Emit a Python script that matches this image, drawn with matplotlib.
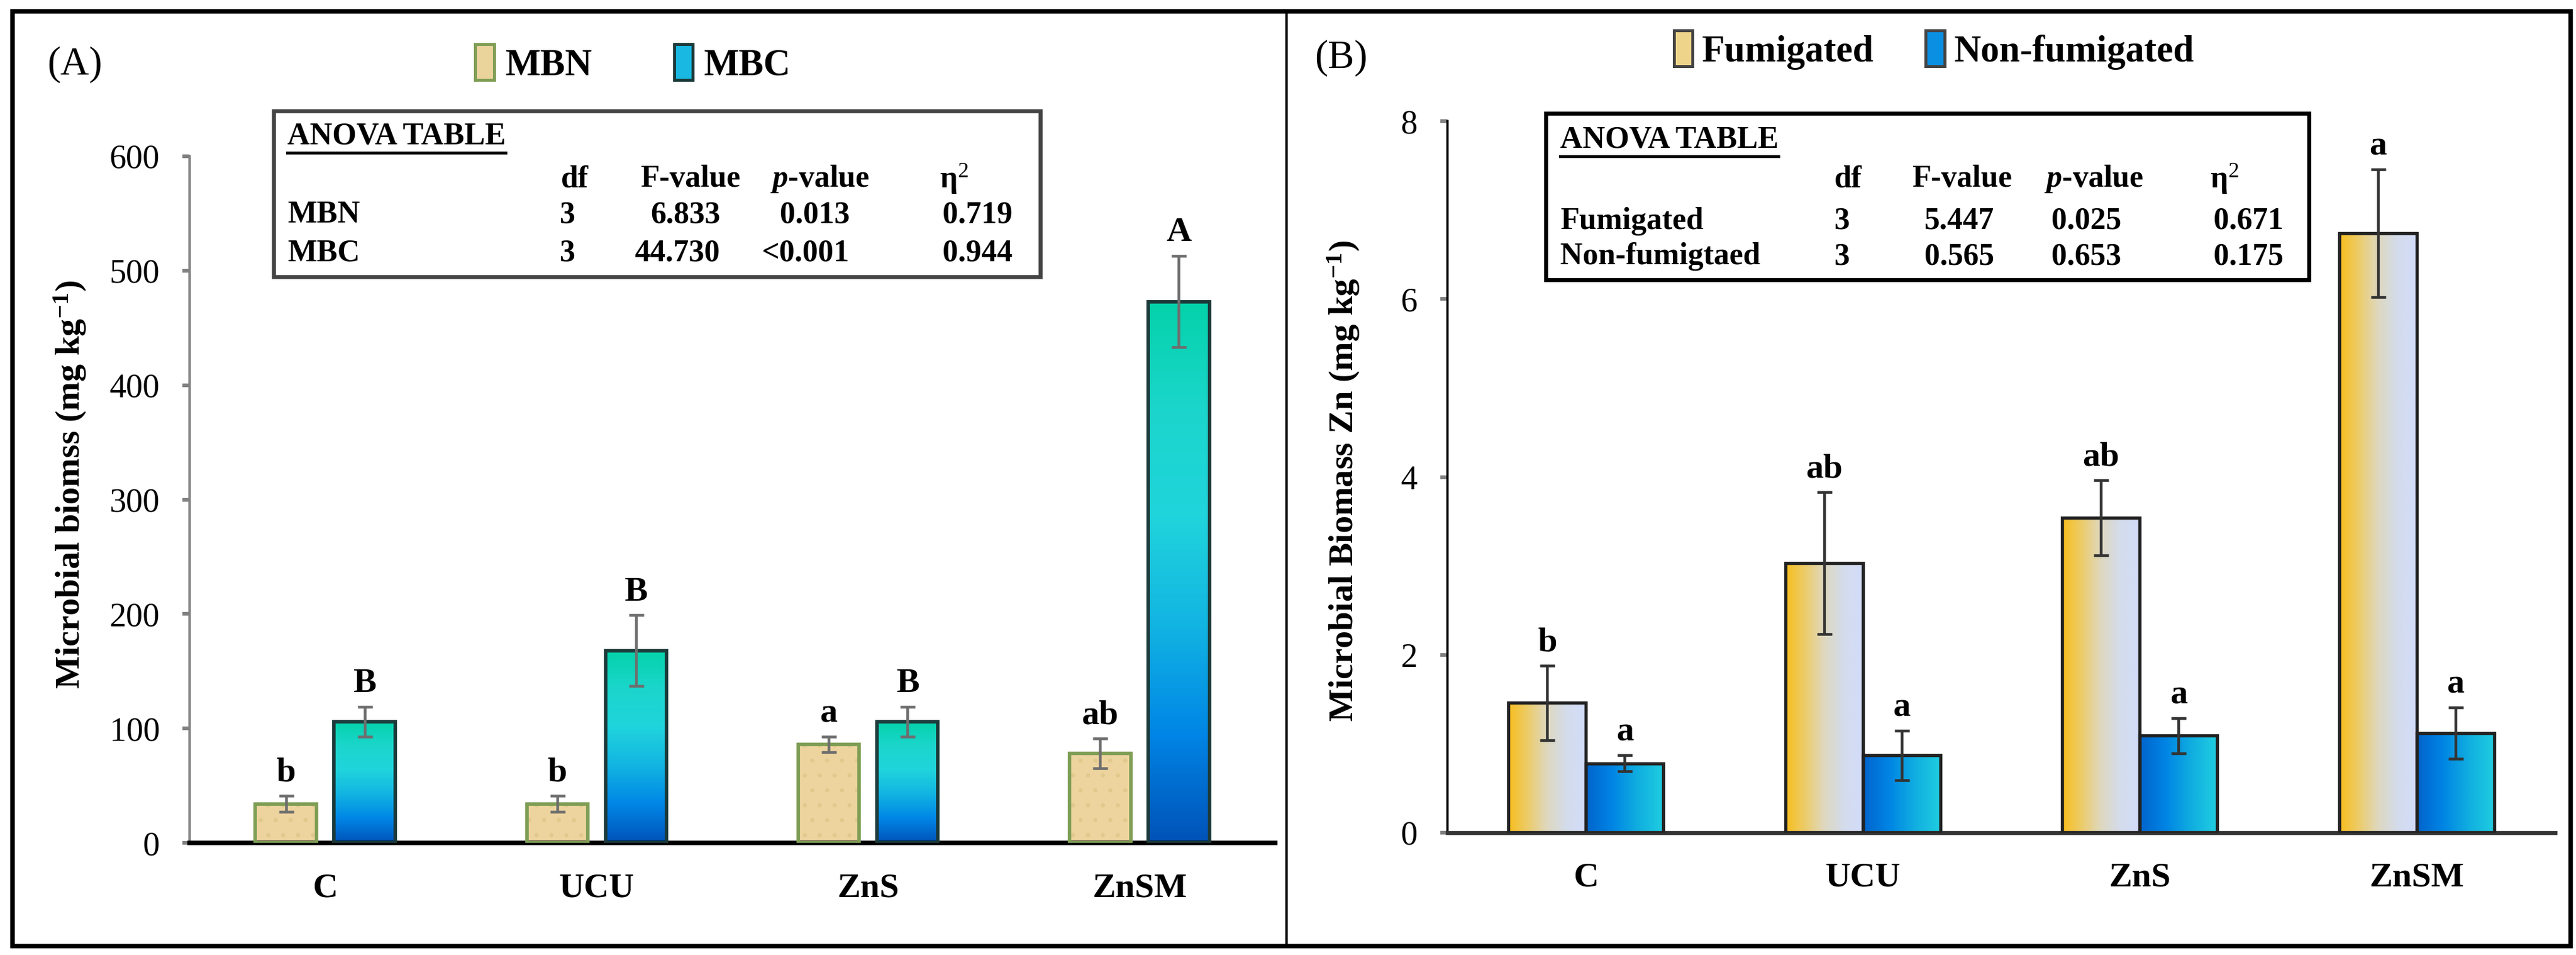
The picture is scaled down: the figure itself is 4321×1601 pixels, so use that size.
import numpy as np
import matplotlib
matplotlib.use("Agg")
import matplotlib.pyplot as plt
from matplotlib.colors import LinearSegmentedColormap
from matplotlib.patches import Rectangle, Patch
from matplotlib.lines import Line2D

# --- Data ---
treatments = ["C", "UCU", "ZnS", "ZnSM"]

# Panel A: microbial biomass N and C (mg kg-1)
mbn = [34, 34, 86, 78]
mbn_err = [7, 7, 7, 13]
mbn_letters = ["b", "b", "a", "ab"]
mbc = [106, 168, 106, 473]
mbc_err = [13, 31, 13, 40]
mbc_letters = ["B", "B", "B", "A"]

# Panel B: microbial biomass Zn (mg kg-1)
fum = [1.46, 3.03, 3.54, 6.74]
fum_err = [0.42, 0.80, 0.42, 0.72]
fum_letters = ["b", "ab", "ab", "a"]
nonfum = [0.78, 0.87, 1.09, 1.12]
nonfum_err = [0.09, 0.28, 0.20, 0.29]
nonfum_letters = ["a", "a", "a", "a"]

# ANOVA tables
anova_cols = ["df", "F-value", "$\\mathbfit{p}$-value", "η$^2$"]
anova_a_rows = ["MBN", "MBC"]
anova_a_vals = [["3", "6.833", "0.013", "0.719"],
                ["3", "44.730", "<0.001", "0.944"]]
anova_b_rows = ["Fumigated", "Non-fumigtaed"]
anova_b_vals = [["3", "5.447", "0.025", "0.671"],
                ["3", "0.565", "0.653", "0.175"]]

# --- Style ---
W, H = 4321, 1601
DPI = 300
plt.rcParams['font.family'] = ['Liberation Serif', 'DejaVu Serif']
plt.rcParams['mathtext.fontset'] = 'custom'
plt.rcParams['mathtext.rm'] = 'Liberation Serif'
plt.rcParams['mathtext.it'] = 'Liberation Serif:italic'
plt.rcParams['mathtext.bf'] = 'Liberation Serif:bold'
plt.rcParams['mathtext.bfit'] = 'Liberation Serif:bold:italic'
plt.rcParams['hatch.linewidth'] = 0.5

fig = plt.figure(figsize=(W / DPI, H / DPI), dpi=DPI)


def fx(px):
    return px / W


def fy(py):
    return 1 - py / H


def axes_px(left, top, right, bottom):
    return fig.add_axes([fx(left), fy(bottom), fx(right) - fx(left), fy(top) - fy(bottom)])


def grad_fill(ax, bar, colors, horizontal):
    x0, y0 = bar.get_xy()
    w, h = bar.get_width(), bar.get_height()
    cmap = LinearSegmentedColormap.from_list("g", colors)
    g = np.linspace(0, 1, 256)
    arr = g[None, :] if horizontal else g[:, None]
    im = ax.imshow(arr, cmap=cmap, extent=[x0, x0 + w, y0, y0 + h],
                   aspect='auto', origin='lower', zorder=2, interpolation='bilinear')
    im.set_clip_path(bar)


mbc_colors = ["#0052B8", "#0086E6", "#12B4E2", "#20D4DC", "#1BD6CC", "#04D2AA"]
fum_colors = ["#F8BE1C", "#ECCC6A", "#DED8C0", "#D4DCEC", "#D2DCFA"]
nonfum_colors = ["#0064CC", "#0084E4", "#10AEE0", "#20CEE0"]

x = np.arange(len(treatments))

# ---------------- Panel A ----------------
axA = axes_px(318, 262, 2139, 1413)
bw = 0.225
off = 0.145
# MBN: textured tan bars
axA.bar(x - off, mbn, bw, color="#EDD49E", edgecolor="#E0C98C", hatch="..",
        linewidth=0, zorder=2)
axA.bar(x - off, mbn, bw, facecolor="none", edgecolor="#7F9E55", linewidth=1.4, zorder=3)
axA.errorbar(x - off, mbn, yerr=mbn_err, fmt="none", ecolor="#6E6E6E",
             elinewidth=1.1, capsize=3, capthick=1.1, zorder=4)
# MBC: vertical gradient bars
barsC = axA.bar(x + off, mbc, bw, facecolor="none", edgecolor="#1C3A3A",
                linewidth=1.4, zorder=3)
for b in barsC:
    grad_fill(axA, b, mbc_colors, horizontal=False)
axA.errorbar(x + off, mbc, yerr=mbc_err, fmt="none", ecolor="#6E6E6E",
             elinewidth=1.1, capsize=3, capthick=1.1, zorder=4)

for i in range(len(treatments)):
    axA.annotate(mbn_letters[i], (x[i] - off, mbn[i] + mbn_err[i]), xytext=(0, 3),
                 textcoords="offset points", ha="center", va="bottom",
                 fontsize=14, fontweight="bold")
    axA.annotate(mbc_letters[i], (x[i] + off, mbc[i] + mbc_err[i]), xytext=(0, 3),
                 textcoords="offset points", ha="center", va="bottom",
                 fontsize=14, fontweight="bold")

axA.set_xlim(-0.5, 3.5)
axA.set_ylim(0, 600)
axA.set_yticks(range(0, 601, 100))
axA.set_xticks(x)
axA.set_xticklabels(treatments, fontsize=14, fontweight="bold")
axA.tick_params(axis="x", length=0, pad=12)
axA.tick_params(axis="y", direction="out", length=3, width=1.5, color="#808080",
                labelsize=13.5, pad=9)
for s in ["top", "right"]:
    axA.spines[s].set_visible(False)
axA.spines["left"].set_color("#808080")
axA.spines["left"].set_linewidth(1.0)
axA.spines["bottom"].set_linewidth(1.8)
axA.spines["bottom"].set_color("black")
fig.text(fx(118), fy(812), "Microbial biomss (mg kg$^{\\mathbf{-1}}$)", rotation=90,
         ha="center", va="center", fontsize=14, fontweight="bold")

# ---------------- Panel B ----------------
axB = axes_px(2428, 203, 4286, 1396)
bw2 = 0.28
barsF = axB.bar(x - bw2 / 2, fum, bw2, facecolor="none", edgecolor="#222222",
                linewidth=1.3, zorder=3)
for b in barsF:
    grad_fill(axB, b, fum_colors, horizontal=True)
barsN = axB.bar(x + bw2 / 2, nonfum, bw2, facecolor="none", edgecolor="#222222",
                linewidth=1.3, zorder=3)
for b in barsN:
    grad_fill(axB, b, nonfum_colors, horizontal=True)
axB.errorbar(x - bw2 / 2, fum, yerr=fum_err, fmt="none", ecolor="#333333",
             elinewidth=1.1, capsize=3, capthick=1.1, zorder=4)
axB.errorbar(x + bw2 / 2, nonfum, yerr=nonfum_err, fmt="none", ecolor="#333333",
             elinewidth=1.1, capsize=3, capthick=1.1, zorder=4)
for i in range(len(treatments)):
    axB.annotate(fum_letters[i], (x[i] - bw2 / 2, fum[i] + fum_err[i]), xytext=(0, 3),
                 textcoords="offset points", ha="center", va="bottom",
                 fontsize=14, fontweight="bold")
    axB.annotate(nonfum_letters[i], (x[i] + bw2 / 2, nonfum[i] + nonfum_err[i]),
                 xytext=(0, 3), textcoords="offset points", ha="center",
                 va="bottom", fontsize=14, fontweight="bold")

axB.set_xlim(-0.5, 3.5)
axB.set_ylim(0, 8)
axB.set_yticks(range(0, 9, 2))
axB.set_xticks(x)
axB.set_xticklabels(treatments, fontsize=14, fontweight="bold")
axB.tick_params(axis="x", length=0, pad=12)
axB.tick_params(axis="y", direction="out", length=3, width=1.5, color="#808080",
                labelsize=13.5, pad=9)
for s in ["top", "right"]:
    axB.spines[s].set_visible(False)
axB.spines["left"].set_color("black")
axB.spines["left"].set_linewidth(0.9)
axB.spines["bottom"].set_linewidth(1.6)
axB.spines["bottom"].set_color("#333333")
fig.text(fx(2254), fy(806), "Microbial Biomass Zn (mg kg$^{\\mathbf{-1}}$)", rotation=90,
         ha="center", va="center", fontsize=14, fontweight="bold")


# ---------------- ANOVA tables ----------------
def anova_table(box, header_y, col_y, row_y, label_x, col_x, col_ha, rows, vals, edge):
    left, top, right, bottom = box
    fig.patches.append(Rectangle((fx(left), fy(bottom)), fx(right) - fx(left),
                                 fy(top) - fy(bottom), transform=fig.transFigure,
                                 facecolor="white", edgecolor=edge, linewidth=1.6,
                                 zorder=5))
    t = fig.text(fx(label_x), fy(header_y), "ANOVA TABLE", ha="left", va="center",
                 fontsize=12.5, fontweight="bold", zorder=6)
    fig.canvas.draw()
    bb = t.get_window_extent()
    fig.add_artist(Line2D([bb.x0 / W, bb.x1 / W], [fy(header_y + 27)] * 2,
                          transform=fig.transFigure, color="black", lw=1.2, zorder=6))
    for j, c in enumerate(anova_cols):
        fig.text(fx(col_x[j][0]), fy(col_y), c, ha="center", va="center",
                 fontsize=12.5, fontweight="bold", zorder=6)
    for i, r in enumerate(rows):
        fig.text(fx(label_x), fy(row_y[i]), r, ha="left", va="center",
                 fontsize=12.5, fontweight="bold", zorder=6)
        for j, v in enumerate(vals[i]):
            fig.text(fx(col_x[j][1]), fy(row_y[i]), v, ha=col_ha[j], va="center",
                     fontsize=12.5, fontweight="bold", zorder=6)


anova_table((459, 186, 1745, 464), 229, 300, [360, 425], 482,
            [(964, 952), (1158, 1208), (1375, 1425), (1600, 1698)],
            ["center", "right", "right", "right"],
            anova_a_rows, anova_a_vals, "#444444")
anova_table((2593, 190, 3873, 469), 235, 300, [371, 430], 2617,
            [(3100, 3090), (3291, 3345), (3512, 3558), (3731, 3830)],
            ["center", "right", "right", "right"],
            anova_b_rows, anova_b_vals, "black")

# ---------------- Legends and panel tags ----------------
legA = [Patch(facecolor="#EBD39C", edgecolor="#7F9E55", linewidth=1.2),
        Patch(facecolor="#18B8E2", edgecolor="#1C3A3A", linewidth=1.2)]
fig.legend(legA, ["MBN", "MBC"], loc="center", bbox_to_anchor=(fx(1062), fy(107)),
           ncol=2, frameon=False, handlelength=0.5, handleheight=1.1,
           handletextpad=0.3, columnspacing=2.2, prop={"size": 15, "weight": "bold"})
legB = [Patch(facecolor="#EED38A", edgecolor="#444444", linewidth=1.2),
        Patch(facecolor="#0A90E2", edgecolor="#444444", linewidth=1.2)]
fig.legend(legB, ["Fumigated", "Non-fumigated"], loc="center",
           bbox_to_anchor=(fx(3244), fy(84)), ncol=2, frameon=False,
           handlelength=0.5, handleheight=1.1, handletextpad=0.25,
           columnspacing=1.4, prop={"size": 15, "weight": "bold"})

fig.text(fx(125), fy(108), "(A)", ha="center", va="center", fontsize=16)
fig.text(fx(2249), fy(97), "(B)", ha="center", va="center", fontsize=16)

# ---------------- Outer frame ----------------
fig.patches.append(Rectangle((fx(21), fy(1586)), fx(4312) - fx(21), fy(19) - fy(1586),
                             transform=fig.transFigure, facecolor="none",
                             edgecolor="black", linewidth=1.8, zorder=1))
fig.add_artist(Line2D([fx(2158), fx(2158)], [fy(19), fy(1586)],
                      transform=fig.transFigure, color="black", lw=1.0))

fig.savefig("out.png", dpi=DPI)
